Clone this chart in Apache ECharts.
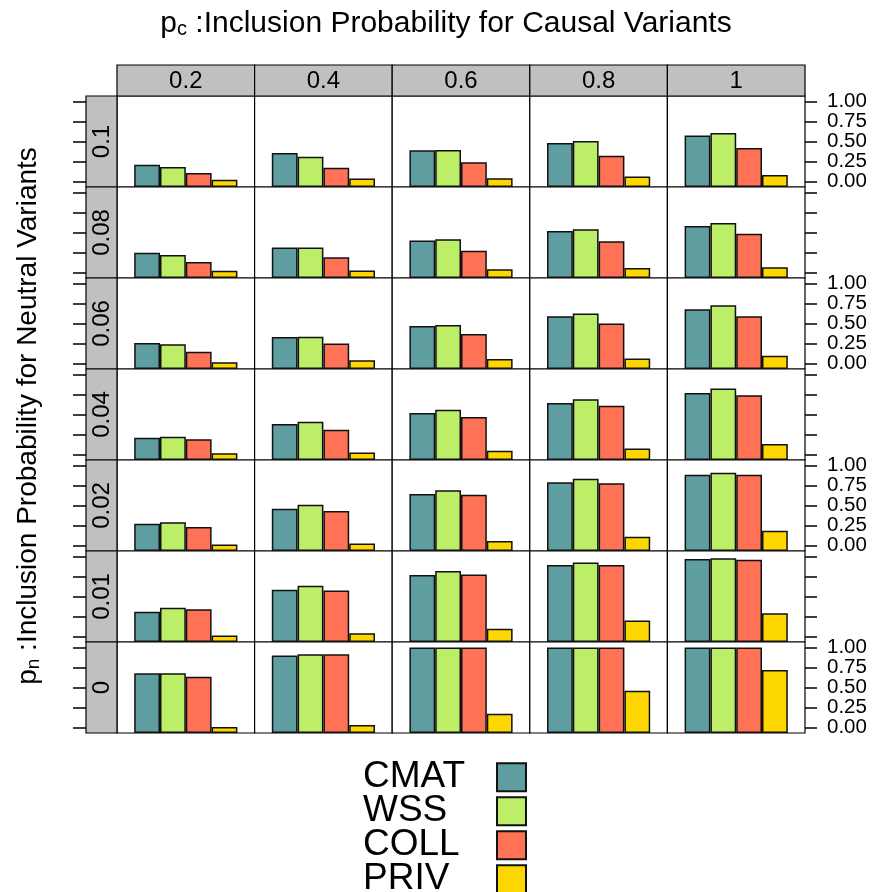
<!DOCTYPE html>
<html><head><meta charset="utf-8">
<script src="https://cdn.jsdelivr.net/npm/echarts@6/dist/echarts.min.js"></script>
<style>html,body{margin:0;padding:0;background:#fff}#c{width:872px;height:892px}</style>
</head><body><div id="c"></div>
<script>
// ---- data ----
const pcLabels = ['0.2', '0.4', '0.6', '0.8', '1'];               // columns (p_c)
const pnLabels = ['0.1', '0.08', '0.06', '0.04', '0.02', '0.01', '0']; // rows top->bottom (p_n)
const methods = ['CMAT', 'WSS', 'COLL', 'PRIV'];
const yTicks = [0, 0.25, 0.5, 0.75, 1];
const yLabelsMajor = [0, 0.5, 1];
const yLabelsMinor = [0.25, 0.75];

// rows = pnLabels, cols = pcLabels
const cmat = [
  [0.21, 0.355, 0.39, 0.48, 0.575],
  [0.246, 0.313, 0.40, 0.52, 0.58],
  [0.257, 0.33, 0.47, 0.59, 0.68],
  [0.21, 0.38, 0.52, 0.645, 0.77],
  [0.27, 0.46, 0.645, 0.79, 0.885],
  [0.31, 0.585, 0.77, 0.895, 0.97],
  [0.68, 0.90, 1.0, 1.0, 1.0]
];
const wss = [
  [0.18, 0.31, 0.395, 0.505, 0.605],
  [0.217, 0.313, 0.415, 0.54, 0.62],
  [0.24, 0.335, 0.48, 0.625, 0.73],
  [0.22, 0.41, 0.56, 0.69, 0.825],
  [0.29, 0.51, 0.69, 0.835, 0.91],
  [0.36, 0.635, 0.82, 0.925, 0.98],
  [0.68, 0.915, 1.0, 1.0, 1.0]
];
const coll = [
  [0.105, 0.17, 0.24, 0.32, 0.42],
  [0.13, 0.19, 0.27, 0.39, 0.485],
  [0.145, 0.25, 0.37, 0.50, 0.59],
  [0.19, 0.31, 0.47, 0.61, 0.74],
  [0.23, 0.43, 0.635, 0.78, 0.885],
  [0.34, 0.575, 0.775, 0.895, 0.96],
  [0.635, 0.915, 1.0, 1.0, 1.0]
];
const priv = [
  [0.02, 0.035, 0.04, 0.06, 0.08],
  [0.02, 0.025, 0.04, 0.055, 0.065],
  [0.016, 0.04, 0.055, 0.06, 0.095],
  [0.015, 0.025, 0.045, 0.075, 0.13],
  [0.01, 0.025, 0.055, 0.11, 0.185],
  [0.012, 0.04, 0.095, 0.20, 0.29],
  [0.005, 0.03, 0.17, 0.46, 0.72]
];

// ---- style / layout ----
const colors = ['#5f9ea0', '#bcee68', '#ff7256', '#ffd700'];
const FONT = '"Liberation Sans", Arial, Helvetica, sans-serif';
const L = 117, T = 96, W = 137.6, H = 91, STRIP = 31, STRIP_TOP = 65;
const YMIN = -0.07, YMAX = 1.07;
const STRIP_FILL = '#c0c0c0';
const valueSets = [cmat, wss, coll, priv];

const grid = [], xAxis = [], yAxis = [], series = [], graphic = [];
const nR = pnLabels.length, nC = pcLabels.length;
const labelStyle = { margin: 22, fontSize: 20.5, fontFamily: FONT, color: '#000', formatter: v => v.toFixed(2) };

for (let r = 0; r < nR; r++) {
  for (let c = 0; c < nC; c++) {
    const g = r * nC + c;
    grid.push({
      left: L + c * W, top: T + r * H, width: W, height: H,
      show: true, borderColor: '#000', borderWidth: 1.2, backgroundColor: '#fff'
    });
    xAxis.push({ type: 'category', gridIndex: g, data: ['x'], show: false });
    const ya = {
      type: 'value', gridIndex: g, min: YMIN, max: YMAX, startValue: YMIN,
      splitLine: { show: false }, axisLine: { show: false }
    };
    if (c === 0) {
      Object.assign(ya, {
        position: 'left', offset: STRIP,
        axisTick: { show: true, length: 13, customValues: yTicks, lineStyle: { color: '#000', width: 1.5 } },
        axisLabel: { show: false, customValues: yTicks }
      });
    } else if (c === nC - 1) {
      Object.assign(ya, {
        position: 'right',
        axisTick: { show: true, length: 12, customValues: yTicks, lineStyle: { color: '#000', width: 1.5 } },
        axisLabel: Object.assign({ show: r % 2 === 0, customValues: yLabelsMajor }, labelStyle)
      });
    } else {
      Object.assign(ya, { axisTick: { show: false }, axisLabel: { show: false } });
    }
    const yIndex = yAxis.length;
    yAxis.push(ya);
    if (c === nC - 1 && r % 2 === 0) {
      // second label layer for the in-between ticks
      yAxis.push({
        type: 'value', gridIndex: g, min: YMIN, max: YMAX, position: 'right',
        splitLine: { show: false }, axisLine: { show: false }, axisTick: { show: false },
        axisLabel: Object.assign({ show: true, customValues: yLabelsMinor }, labelStyle)
      });
    }
    methods.forEach((m, k) => {
      series.push({
        type: 'bar', name: m, xAxisIndex: g, yAxisIndex: yIndex,
        data: [valueSets[k][r][c]],
        barGap: '0%', barCategoryGap: '25%',
        itemStyle: { color: colors[k], borderColor: '#111', borderWidth: 1.5 },
        emphasis: { disabled: true }, silent: true
      });
    });
  }
}

// top strips (p_c)
pcLabels.forEach((lab, c) => {
  graphic.push({
    type: 'rect', shape: { x: L + c * W, y: STRIP_TOP, width: W, height: T - STRIP_TOP },
    style: { fill: STRIP_FILL, stroke: '#000', lineWidth: 1.2 }, z: 10
  });
  graphic.push({
    type: 'text', x: L + c * W + W / 2, y: STRIP_TOP + (T - STRIP_TOP) / 2 + 1, z: 11,
    style: { text: lab, font: '24px ' + FONT, fill: '#000', align: 'center', verticalAlign: 'middle' }
  });
});
// left strips (p_n)
pnLabels.forEach((lab, r) => {
  graphic.push({
    type: 'rect', shape: { x: L - STRIP, y: T + r * H, width: STRIP, height: H },
    style: { fill: STRIP_FILL, stroke: '#000', lineWidth: 1.2 }, z: 10
  });
  graphic.push({
    type: 'text', x: L - STRIP / 2 + 1, y: T + r * H + H / 2, rotation: Math.PI / 2, z: 11,
    style: { text: lab, font: '24px ' + FONT, fill: '#000', align: 'center', verticalAlign: 'middle' }
  });
});
// titles
graphic.push({
  type: 'text', x: 446, y: 24, z: 11,
  style: {
    text: '{a|p}{s|c}{a| :Inclusion Probability for Causal Variants}',
    align: 'center', verticalAlign: 'middle',
    rich: {
      a: { fontSize: 30, fontFamily: FONT, fill: '#000', lineHeight: 31, verticalAlign: 'middle' },
      s: { fontSize: 20, fontFamily: FONT, fill: '#000', lineHeight: 14, verticalAlign: 'bottom' }
    }
  }
});
graphic.push({
  type: 'text', x: 28, y: 416, rotation: Math.PI / 2, z: 11,
  style: {
    text: '{a|p}{s|n}{a| :Inclusion Probability for Neutral Variants}',
    align: 'center', verticalAlign: 'middle',
    rich: {
      a: { fontSize: 28, fontFamily: FONT, fill: '#000', lineHeight: 30, verticalAlign: 'middle' },
      s: { fontSize: 19, fontFamily: FONT, fill: '#000', lineHeight: 14, verticalAlign: 'bottom' }
    }
  }
});

const chart = echarts.init(document.getElementById('c'), null, { renderer: 'canvas' });
chart.setOption({
  animation: false,
  backgroundColor: '#fff',
  grid, xAxis, yAxis, series, graphic,
  legend: {
    data: methods, orient: 'vertical', left: 363, top: 758.75, height: 300, padding: 0,
    align: 'right', icon: 'rect', itemWidth: 29, itemHeight: 28, itemGap: -3,
    selectedMode: false,
    formatter: n => '{a|' + n + '}',
    textStyle: {
      rich: { a: { fontSize: 37, fontFamily: FONT, color: '#000', width: 129, align: 'left', lineHeight: 28 } }
    }
  }
});
</script>
</body></html>
